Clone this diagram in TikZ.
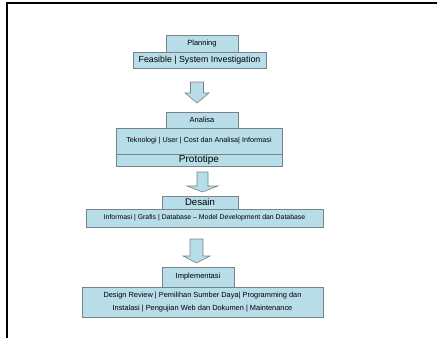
\documentclass[tikz,border=0pt]{standalone}
\usepackage{fontspec}
\setmainfont{Liberation Sans}
\definecolor{boxfill}{RGB}{183,221,232}
\definecolor{boxline}{RGB}{120,130,135}
\newcommand{\fs}[1]{\fontsize{#1}{#1}\selectfont}
% block arrow: centre x, top, neck, tip, shaft half width, head half width
\newcommand{\FlowArrow}[6]{\draw[flow] (#1-#5, #2) -- (#1+#5, #2) -- (#1+#5, #3) -- (#1+#6, #3) -- (#1, #4) -- (#1-#6, #3) -- (#1-#5, #3) -- cycle;}

\begin{document}
\begin{tikzpicture}[x=1pt, y=-1pt,
  stage/.style = {draw=boxline, fill=boxfill, line width=0.7pt, inner sep=0pt, align=center},
  flow/.style = {draw=boxline, fill=boxfill, line width=0.6pt, line join=miter}]

\useasboundingbox (0, 0) rectangle (437, 338);
\draw[line width=2.2pt] (7, 338) -- (7, 3) -- (437, 3);

% Planning
\node[stage, minimum width=72, minimum height=17] (planning) at (202, 43.5) {\fs{7.5}Planning};
\node[stage, minimum width=133, minimum height=16] (feasible) at (199.5, 60) {\fs{8.8}Feasible | System Investigation};

\FlowArrow{197}{82}{93}{103}{6.5}{12}

% Analisa
\node[stage, minimum width=72, minimum height=16] (analisa) at (202, 120) {\fs{7.5}Analisa};
\node[stage, minimum width=166, minimum height=26] (teknologi) at (199, 141) {\fs{7.2}Teknologi | User | Cost dan Analisa| Informasi};
\node[stage, minimum width=166, minimum height=12] (prototipe) at (199, 160) {\fs{10}Prototipe};

\FlowArrow{202.5}{172}{186}{192}{5.5}{15.5}

% Desain
\node[stage, minimum width=76, minimum height=13] (desain) at (200, 202.5) {\fs{9.6}Desain};
\node[stage, minimum width=237, minimum height=18] (informasi) at (204.5, 218) {\fs{6.9}Informasi | Grafis | Database -- Model Development dan Database};

\FlowArrow{196.5}{239}{256}{263}{6.5}{13.5}

% Implementasi
\node[stage, minimum width=72, minimum height=20] (implementasi) at (198, 277) {\fs{7.5}Implementasi};
\node[stage, minimum width=241, minimum height=30] (review) at (202.5, 302) {\fs{7.4}Design Review | Pemilihan Sumber Daya| Programming dan\\[1pt]\fs{7.4}Instalasi | Pengujian Web dan Dokumen | Maintenance};

\end{tikzpicture}
\end{document}
